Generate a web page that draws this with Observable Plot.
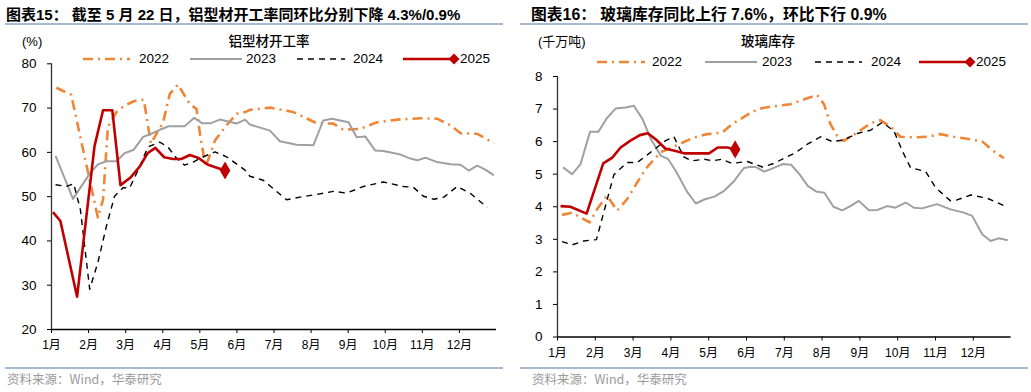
<!DOCTYPE html>
<html><head><meta charset="utf-8">
<script src="https://cdn.jsdelivr.net/npm/d3@7"></script>
<script src="https://cdn.jsdelivr.net/npm/@observablehq/plot@0.6"></script>
<style>
body{margin:0;width:1031px;height:392px;background:#fff;position:relative;overflow:hidden;font-family:"Liberation Sans",Arial,"Noto Sans CJK SC",sans-serif;color:#000;}
.abs{position:absolute;white-space:nowrap;line-height:1;}
.title{font-weight:bold;font-size:15px;top:7px;font-family:"Liberation Sans",Arial,"Noto Sans CJK SC",sans-serif;}
.rule{position:absolute;height:2px;background:#a7b9d3;}
.unit{font-size:13px;top:35px;}
.ctitle{font-size:13.5px;top:34px;transform:translateX(-50%);font-family:"Noto Sans CJK SC",sans-serif;font-weight:500;}
.src{font-size:12.5px;color:#9a9a9a;top:373px;font-family:"Noto Sans CJK SC",sans-serif;}
.legtxt{font-size:13.5px;}
.chart{position:absolute;}
</style></head>
<body>
<div id="root"></div>
<script>
// ---------- data ----------
const monthLabels = ["1月","2月","3月","4月","5月","6月","7月","8月","9月","10月","11月","12月"];
const monthTicks = [1,2,3,4,5,6,7,8,9,10,11,12];
const seriesNames = ["2022","2023","2024","2025"];

// 铝型材开工率 (%) : [month position, value]
const al2022 = [[1.13,74.6],[1.53,73.0],[2.25,45.3],[2.39,49.3],[2.52,65.7],[2.75,69.1],[2.97,70.6],[3.24,71.6],[3.49,71.9],[3.68,62.0],[4.01,66.8],[4.19,73.2],[4.41,75.3],[4.73,70.9],[4.91,69.8],[5.03,62.7],[5.16,56.8],[5.41,62.7],[5.72,66.1],[5.99,68.7],[6.22,69.1],[6.35,69.6],[6.89,70.1],[7.52,69.1],[8.15,66.6],[8.60,66.5],[8.87,65.1],[9.32,65.3],[9.78,66.8],[10.32,67.4],[10.95,67.7],[11.40,67.6],[11.76,66.1],[12.03,64.3],[12.48,64.2],[12.93,62.1]];
const al2023 = [[1.11,59.2],[1.58,49.5],[2.03,55.2],[2.25,57.3],[2.48,58.0],[2.75,58.0],[2.97,59.8],[3.22,60.6],[3.47,63.5],[3.69,64.2],[3.92,65.1],[4.16,65.9],[4.59,65.9],[4.85,67.8],[5.06,66.6],[5.30,66.6],[5.54,67.4],[5.99,66.5],[6.22,67.4],[6.35,66.3],[6.89,64.9],[7.16,62.5],[7.61,61.7],[8.06,61.6],[8.33,67.2],[8.56,67.6],[9.01,66.8],[9.23,63.4],[9.46,63.6],[9.73,60.4],[9.95,60.3],[10.41,59.5],[10.68,58.6],[10.86,58.2],[11.08,58.8],[11.40,57.8],[11.76,57.3],[12.03,57.2],[12.25,55.9],[12.48,57.0],[12.70,56.1],[12.93,54.8]];
const al2024 = [[1.11,52.7],[1.40,52.3],[1.60,52.9],[1.78,47.0],[2.03,29.1],[2.25,35.1],[2.48,43.3],[2.70,50.1],[2.93,52.0],[3.11,52.0],[3.38,56.8],[3.60,61.2],[3.92,62.3],[4.14,61.2],[4.37,58.7],[4.59,57.1],[4.82,57.8],[5.09,59.0],[5.41,60.1],[5.72,59.0],[6.22,56.0],[6.35,54.6],[6.71,53.7],[7.34,49.3],[7.70,49.9],[8.15,50.5],[8.60,51.2],[8.96,50.8],[9.41,52.3],[9.95,53.3],[10.49,52.3],[10.76,52.1],[11.03,50.1],[11.31,49.4],[11.58,49.9],[11.94,52.3],[12.30,50.7],[12.75,47.6]];
const al2025 = [[1.04,46.5],[1.24,44.5],[1.69,27.4],[2.16,61.4],[2.39,69.5],[2.64,69.5],[2.86,52.6],[3.14,54.4],[3.38,56.8],[3.59,59.8],[3.80,61.0],[4.04,58.9],[4.28,58.5],[4.50,58.5],[4.73,59.4],[4.95,58.8],[5.22,57.2],[5.68,55.9]];
const alTicks = [20,30,40,50,60,70,80];

// 玻璃库存 (千万吨)
const gl2022 = [[1.12,3.75],[1.39,3.82],[1.61,3.67],[1.85,3.52],[2.05,3.93],[2.31,4.34],[2.58,3.88],[2.84,4.23],[3.11,4.75],[3.33,5.16],[3.72,5.67],[4.12,5.87],[4.61,6.13],[4.96,6.23],[5.36,6.28],[5.62,6.54],[6.02,6.82],[6.30,7.00],[6.63,7.07],[7.16,7.15],[7.61,7.33],[7.87,7.43],[8.05,7.15],[8.22,6.54],[8.40,6.18],[8.57,6.02],[8.93,6.28],[9.28,6.56],[9.54,6.66],[9.81,6.46],[10.07,6.15],[10.43,6.13],[10.78,6.15],[11.13,6.23],[11.48,6.15],[11.88,6.08],[12.24,6.00],[12.50,5.74],[12.81,5.49]];
const gl2023 = [[1.15,5.21],[1.39,5.00],[1.61,5.31],[1.86,6.30],[2.08,6.30],[2.30,6.71],[2.54,7.02],[2.80,7.05],[3.02,7.10],[3.25,6.69],[3.47,6.08],[3.73,5.57],[3.93,5.46],[4.13,5.10],[4.44,4.44],[4.66,4.10],[4.90,4.23],[5.15,4.31],[5.41,4.49],[5.68,4.80],[5.93,5.19],[6.12,5.23],[6.25,5.22],[6.47,5.08],[6.74,5.20],[6.96,5.31],[7.18,5.29],[7.40,5.00],[7.62,4.64],[7.84,4.47],[8.06,4.43],[8.30,4.00],[8.53,3.89],[8.75,4.02],[8.97,4.18],[9.24,3.89],[9.46,3.90],[9.72,4.02],[9.94,3.97],[10.21,4.13],[10.43,3.97],[10.65,3.95],[11.04,4.08],[11.40,3.92],[11.75,3.82],[11.97,3.72],[12.24,3.15],[12.46,2.95],[12.67,3.03],[12.91,2.97]];
const gl2024 = [[1.12,2.93],[1.39,2.83],[1.70,2.95],[2.03,2.99],[2.49,4.98],[2.84,5.36],[3.11,5.36],[3.46,5.67],[3.86,6.03],[4.08,6.15],[4.34,5.53],[4.56,5.41],[4.87,5.46],[5.10,5.41],[5.35,5.46],[5.62,5.33],[6.02,5.39],[6.42,5.22],[6.72,5.33],[6.99,5.49],[7.30,5.66],[7.61,5.92],[7.96,6.15],[8.27,6.00],[8.57,6.05],[8.93,6.25],[9.28,6.35],[9.59,6.59],[9.90,6.33],[10.12,5.72],[10.34,5.20],[10.74,5.08],[11.00,4.59],[11.40,4.18],[11.57,4.21],[11.93,4.36],[12.37,4.26],[12.63,4.13],[12.90,3.99]];
const gl2025 = [[1.08,4.02],[1.34,4.00],[1.77,3.79],[2.21,5.33],[2.45,5.51],[2.67,5.82],[2.93,6.03],[3.18,6.20],[3.39,6.26],[3.62,6.05],[3.86,5.78],[4.10,5.72],[4.35,5.64],[4.70,5.64],[5.01,5.64],[5.24,5.82],[5.50,5.82],[5.70,5.76]];
const glTicks = [0,1,2,3,4,5,6,7,8];

// ---------- styles ----------
const ORANGE = "#EF8636", GRAY = "#A0A0A0", RED = "#C00000", BLACK = "#000";
const styles = [
  {stroke: ORANGE, strokeWidth: 2.6, strokeDasharray: "10,5,2,5"},
  {stroke: GRAY, strokeWidth: 2},
  {stroke: BLACK, strokeWidth: 1.4, strokeDasharray: "6,5"},
  {stroke: RED, strokeWidth: 2.6}
];

const root = document.getElementById("root");
function addDiv(cls, left, top, html, extra) {
  const d = document.createElement("div");
  d.className = "abs " + cls;
  d.style.left = left + "px";
  if (top != null) d.style.top = top + "px";
  d.innerHTML = html;
  if (extra) Object.assign(d.style, extra);
  root.appendChild(d);
  return d;
}
function addRule(left, top, width) {
  const d = document.createElement("div");
  d.className = "rule";
  Object.assign(d.style, {left: left + "px", top: top + "px", width: width + "px"});
  root.appendChild(d);
}

function legend(items, cy) {
  items.forEach((it, i) => {
    const st = styles[i];
    const w = it.w + (i === 3 ? 6 : 0);
    const svg = `<svg width="${w}" height="12" style="display:block">
      <line x1="0" x2="${it.w}" y1="6" y2="6" stroke="${st.stroke}" stroke-width="${st.strokeWidth}" ${st.strokeDasharray ? `stroke-dasharray="${st.strokeDasharray}"` : ""}/>
      ${i === 3 ? `<path d="M${it.w},0.5 L${it.w+5.5},6 L${it.w},11.5 L${it.w-5.5},6 Z" fill="${RED}"/>` : ""}
    </svg>`;
    addDiv("", it.x, cy - 6, svg);
    addDiv("legtxt", it.tx, cy - 7, seriesNames[i]);
  });
}

function chart({data, yDomain, yTicks, width, height, mt, mb, ml, mr, left, top}) {
  const marks = [
    Plot.ruleX([1], {stroke: "#333", strokeWidth: 1.3}),
    Plot.ruleY([yDomain[0]], {stroke: "#000", strokeWidth: 1.3}),
    Plot.axisY({ticks: yTicks, tickSize: 4, tickPadding: 11, fontSize: 13.5, label: null}),
    Plot.axisX({ticks: monthTicks, tickSize: 4, tickPadding: 7, fontSize: 12, tickFormat: d => monthLabels[d - 1], label: null}),
  ];
  data.forEach((s, i) => {
    marks.push(Plot.line(s, {x: d => d[0], y: d => d[1], ...styles[i], strokeLinejoin: "round", strokeLinecap: "butt"}));
  });
  const last = data[3][data[3].length - 1];
  marks.push(Plot.dot([last], {x: d => d[0], y: d => d[1], symbol: "diamond", r: 5.5, fill: RED, stroke: "none"}));
  const p = Plot.plot({
    width, height, marginTop: mt, marginBottom: mb, marginLeft: ml, marginRight: mr,
    x: {domain: [1, 13]},
    y: {domain: yDomain},
    style: {fontFamily: "Liberation Sans, Arial, Noto Sans CJK SC, sans-serif", fontSize: "13px", color: "#000", background: "transparent", overflow: "visible"},
    marks
  });
  const wrap = document.createElement("div");
  wrap.className = "chart";
  wrap.style.left = left + "px"; wrap.style.top = top + "px";
  wrap.appendChild(p);
  root.appendChild(wrap);
}

// ---------- left panel ----------
addDiv("title", 6, 7, "图表15：&nbsp;截至 5 月 22 日，铝型材开工率同环比分别下降 4.3%/0.9%");
addRule(5, 23, 498);
addDiv("unit", 22, 35, "(%)");
addDiv("ctitle", 269, 34, "铝型材开工率");
chart({data: [al2022, al2023, al2024, al2025], yDomain: [20, 80], yTicks: alTicks,
  width: 505, height: 310, mt: 13.3, mb: 31, ml: 51, mr: 9, left: 0, top: 50});
legend([{x: 83, w: 47, tx: 139}, {x: 190, w: 52, tx: 246}, {x: 297, w: 48, tx: 353}, {x: 403, w: 51, tx: 460}], 59);
addRule(5, 367, 498);
addDiv("src", 7, 373, "资料来源：Wind，华泰研究");

// ---------- right panel ----------
addDiv("title", 531, 7, "图表16：&nbsp;玻璃库存同比上行 7.6%，环比下行 0.9%", {fontSize: "15.8px"});
addRule(520, 23, 508);
addDiv("unit", 538, 35, "(千万吨)");
addDiv("ctitle", 768, 34, "玻璃库存");
chart({data: [gl2022, gl2023, gl2024, gl2025], yDomain: [0, 8], yTicks: glTicks,
  width: 510, height: 320, mt: 26, mb: 33.5, ml: 42, mr: 14.4, left: 515, top: 50});
legend([{x: 597, w: 48, tx: 652}, {x: 705, w: 52, tx: 762}, {x: 815, w: 47, tx: 871}, {x: 919, w: 51, tx: 976}], 62);
addRule(520, 367, 508);
addDiv("src", 532, 373, "资料来源：Wind，华泰研究");
</script>
</body></html>
